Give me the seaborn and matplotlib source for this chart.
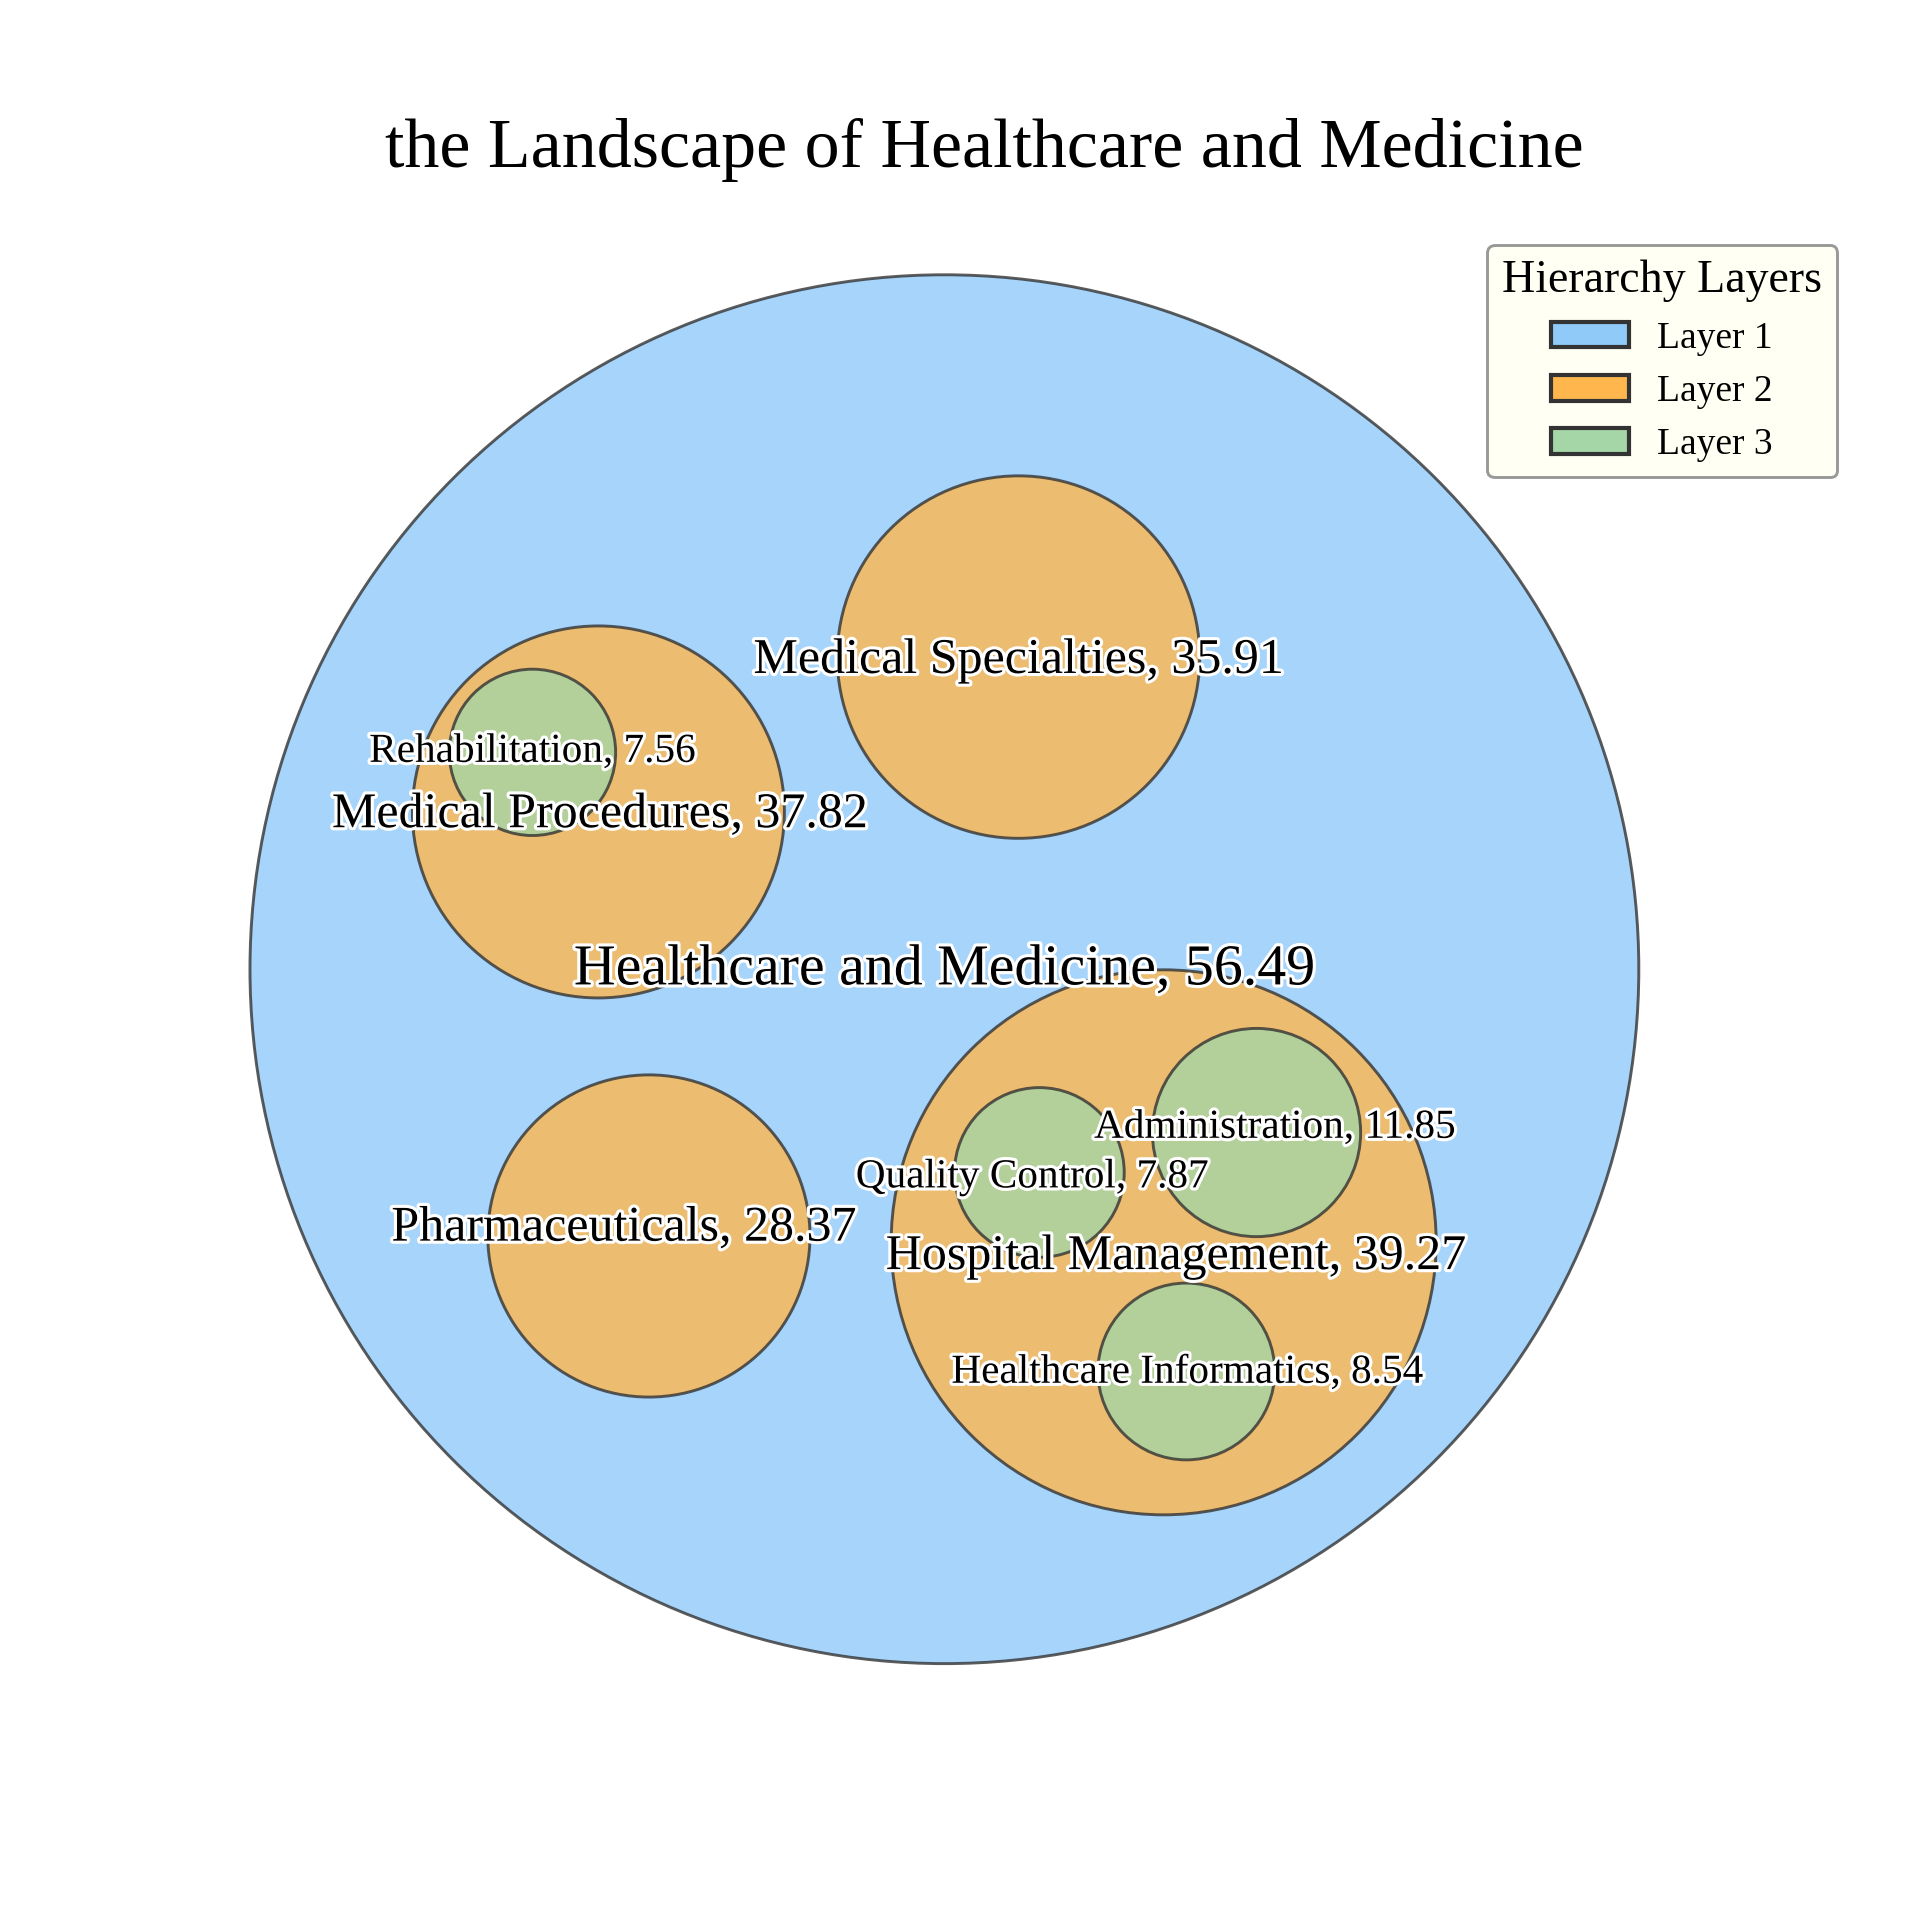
import matplotlib
matplotlib.use("Agg")
import matplotlib.pyplot as plt
import matplotlib.patheffects as pe
from matplotlib.patches import Circle, Patch
import seaborn as sns

# ---- data ----
names = ["Healthcare and Medicine", "Medical Specialties", "Medical Procedures",
         "Rehabilitation", "Pharmaceuticals", "Hospital Management",
         "Quality Control", "Administration", "Healthcare Informatics"]
values = [56.49, 35.91, 37.82, 7.56, 28.37, 39.27, 7.87, 11.85, 8.54]
layers = [1, 2, 2, 3, 2, 2, 3, 3, 3]
layer_labels = ["Layer 1", "Layer 2", "Layer 3"]
title = "the Landscape of Healthcare and Medicine"
legend_title = "Hierarchy Layers"

# ---- layout (packed circle positions, data units) ----
cx = [0.0, 2.45, -11.44, -13.62, -9.77, 7.25, 3.14, 10.32, 8.00]
cy = [0.0, 10.32, 5.20, 7.17, -8.82, -9.03, -6.72, -5.40, -13.30]
radius_override = {0: 22.96, 5: 9.01}
label_dx = [0.0, 0.0, 0.04, 0.0, -0.84, 0.40, -0.22, 0.61, 0.04]
label_dy = [-0.04, -0.12, -0.10, 0.0, 0.25, -0.48, -0.18, 0.14, -0.06]

# ---- style ----
layer_colors = ["#90CAF9", "#FFB74D", "#A5D6A7"]
layer_fontsize = {1: 13.9, 2: 12.0, 3: 9.9}

sns.set_theme(style="white")
plt.rcParams["font.family"] = ["Liberation Serif", "DejaVu Serif"]
plt.rcParams["text.color"] = "black"

fig = plt.figure(figsize=(6.4, 6.4), dpi=300)
ax = fig.add_axes([0, 0, 1, 1])
ax.set_xlim(-31.225, 32.257)
ax.set_ylim(-31.436, 32.045)
ax.set_aspect("equal")
ax.axis("off")

order = sorted(range(len(names)), key=lambda i: layers[i])
for i in order:
    r = radius_override.get(i, values[i] ** 0.5)
    c = Circle((cx[i], cy[i]), r, facecolor=layer_colors[layers[i] - 1],
               edgecolor="#333333", linewidth=0.7, alpha=0.8, zorder=layers[i])
    ax.add_patch(c)

for i in order:
    ax.text(cx[i] + label_dx[i], cy[i] + label_dy[i], f"{names[i]}, {values[i]:.2f}",
            ha="center", va="center", fontsize=layer_fontsize[layers[i]],
            color="black", zorder=10,
            path_effects=[pe.withStroke(linewidth=1.5, foreground="white")])

fig.text(0.5125, 1 - 167 / 1920, title, ha="center", va="baseline",
         fontsize=16.8, color="black")

handles = [Patch(facecolor=layer_colors[k], edgecolor="#333333", linewidth=1.0,
                 label=layer_labels[k]) for k in range(3)]
leg = fig.legend(handles=handles, title=legend_title, loc="upper right",
                 bbox_to_anchor=(1837 / 1920, 1 - 245 / 1920), borderaxespad=0,
                 fontsize=9, title_fontsize=11, handlelength=2.08, handleheight=0.67,
                 handletextpad=0.74, facecolor="ivory", edgecolor="gray",
                 framealpha=0.8, fancybox=True, labelcolor="black")
leg.get_title().set_color("black")
leg.get_frame().set_linewidth(0.7)

fig.savefig("out.png", dpi=300)
